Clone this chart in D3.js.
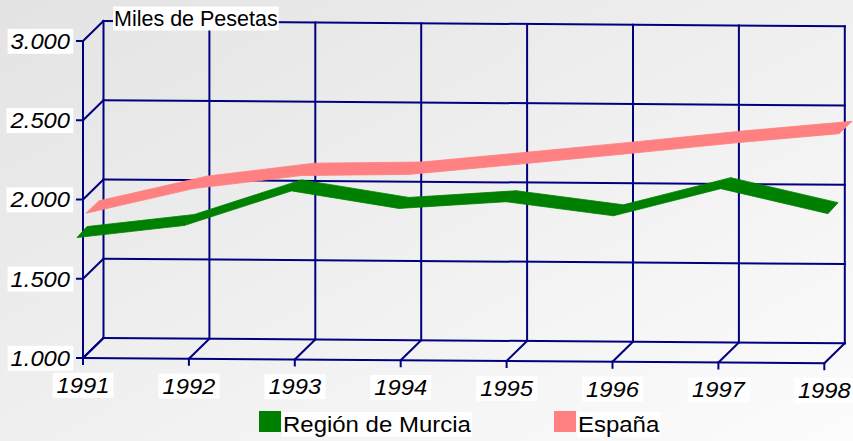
<!DOCTYPE html>
<html>
<head>
<meta charset="utf-8">
<script src="https://cdn.jsdelivr.net/npm/d3@7"></script>
<style>
  html, body { margin: 0; padding: 0; background: #fff; }
  svg { display: block; }
  text { font-family: "Liberation Sans", Arial, sans-serif; }
</style>
</head>
<body>
<svg id="chart" width="853" height="441"></svg>
<script>
// ---- data ----
const years = ["1991", "1992", "1993", "1994", "1995", "1996", "1997", "1998"];
const murcia = [1763, 1844, 2067, 1961, 2008, 1924, 2100, 1947];
const espana = [1861, 2021, 2108, 2120, 2188, 2258, 2331, 2396];
const yTicks = [1000, 1500, 2000, 2500, 3000];
const yTickLabels = ["1.000", "1.500", "2.000", "2.500", "3.000"];
const seriesNames = ["Región de Murcia", "España"];
const unitLabel = "Miles de Pesetas";

// ---- layout ----
const W = 853, H = 441;
const svg = d3.select("#chart");
const GRID = "#000080";
const COLORS = ["#008000", "#ff8080"];
const TILT = 0.75;           // px drop per category (perspective)
const DEPTH = [20.5, -20];   // depth vector front->back

const xScale = d3.scaleLinear().domain([0, years.length - 1]).range([83, 824.3]);
const yScale = d3.scaleLinear().domain([1000, 3000]).range([358, 41]);
function proj(i, v, d) {
  return [xScale(i) + DEPTH[0] * d, yScale(v) + TILT * i + DEPTH[1] * d];
}

// background gradient
const defs = svg.append("defs");
const grad = defs.append("linearGradient").attr("id", "bg")
  .attr("x1", "0%").attr("y1", "0%").attr("x2", "100%").attr("y2", "100%");
grad.append("stop").attr("offset", "0%").attr("stop-color", "#e3e3e3");
grad.append("stop").attr("offset", "100%").attr("stop-color", "#fcfcfc");
svg.append("rect").attr("width", W).attr("height", H).attr("fill", "url(#bg)");

const gGrid = svg.append("g").attr("stroke", GRID).attr("stroke-width", 2).attr("fill", "none")
  .attr("stroke-linecap", "square");
function seg(a, b) {
  gGrid.append("line").attr("x1", a[0]).attr("y1", a[1]).attr("x2", b[0]).attr("y2", b[1]);
}
const n = years.length;
// back wall horizontals + side wall
yTicks.forEach(t => {
  seg(proj(0, t, 1), proj(n - 1, t, 1));
  seg(proj(0, t, 0), proj(0, t, 1));
  const p = proj(0, t, 0);
  seg([p[0] - 6, p[1]], p);
});
// back wall verticals + floor lines
years.forEach((y, i) => {
  seg(proj(i, 1000, 1), proj(i, 3000, 1));
  seg(proj(i, 1000, 0), proj(i, 1000, 1));
  const p = proj(i, 1000, 0);
  seg(p, [p[0], p[1] + 6]);
});
seg(proj(0, 1000, 0), proj(n - 1, 1000, 0));
seg(proj(0, 1000, 0), proj(0, 3000, 0));

// ---- ribbons ----
const ribbonX = [
  d3.scaleLinear().domain([0, n - 1]).range([82, 833]),
  d3.scaleLinear().domain([0, n - 1]).range([92.5, 845.5])
];
const ribbonShift = [5, 14.5];
const ribbonHalf = [[5, -5.5], [6.5, -6.2]];
const series = [murcia, espana];
const gR = svg.append("g");
[1, 0].forEach(s => {
  const vals = series[s];
  const c = vals.map((v, i) => [ribbonX[s](i), yScale(v) + TILT * i - ribbonShift[s]]);
  const h = ribbonHalf[s];
  for (let i = 0; i < n - 1; i++) {
    const f0 = [c[i][0] - h[0], c[i][1] - h[1]];
    const f1 = [c[i + 1][0] - h[0], c[i + 1][1] - h[1]];
    const b1 = [c[i + 1][0] + h[0], c[i + 1][1] + h[1]];
    const b0 = [c[i][0] + h[0], c[i][1] + h[1]];
    gR.append("path")
      .attr("d", d3.line()([f0, f1, b1, b0]) + "Z")
      .attr("fill", COLORS[s]).attr("stroke", COLORS[s]).attr("stroke-width", 0.8)
      .attr("stroke-linejoin", "miter");
  }
});

// ---- labels with white boxes ----
function boxedText(g, x, y, str, opts) {
  const t = g.append("text").attr("x", x).attr("y", y).text(str)
    .attr("font-size", opts.size).attr("font-style", opts.italic ? "italic" : "normal")
    .attr("text-anchor", opts.anchor || "start").attr("fill", "#000");
  if (opts.sx) {
    t.attr("transform", `translate(${x},0) scale(${opts.sx},1) translate(${-x},0)`);
  }
  const bb = t.node().getBBox();
  const sx = opts.sx || 1;
  let bx = bb.x, bw = bb.width;
  if (opts.sx) { bx = x + (bb.x - x) * sx; bw = bb.width * sx; }
  const p = opts.pad || [3, 1];
  g.insert("rect", "text:last-child")
    .attr("x", bx - p[0]).attr("y", bb.y - p[1] + (opts.dyBox || 0))
    .attr("width", bw + 2 * p[0]).attr("height", bb.height + 2 * p[1])
    .attr("fill", "#fff");
  return t;
}

const gL = svg.append("g");
yTicks.forEach((t, k) => {
  const g = gL.append("g");
  const p = proj(0, t, 0);
  boxedText(g, 70, p[1] + 8, yTickLabels[k], { size: 22, italic: true, anchor: "end", sx: 1.08, pad: [3, 0] });
});
years.forEach((yr, i) => {
  const g = gL.append("g");
  const p = proj(i, 1000, 0);
  boxedText(g, p[0], p[1] + 35, yr, { size: 22, italic: true, anchor: "middle", sx: 1.08, pad: [4, 0] });
});
// unit label
{
  const g = gL.append("g");
  boxedText(g, 114, 25.5, unitLabel, { size: 21.5, anchor: "start", sx: 1.0, pad: [1, 0] });
}
// legend
const legendX = [259, 554];
seriesNames.forEach((name, s) => {
  const g = gL.append("g");
  g.append("rect").attr("x", legendX[s]).attr("y", 411).attr("width", 22).attr("height", 21)
    .attr("fill", COLORS[s]);
  boxedText(g, legendX[s] + 24, 432, name, { size: 22, anchor: "start", sx: 1.09, pad: [1, 0] });
});
</script>
</body>
</html>
